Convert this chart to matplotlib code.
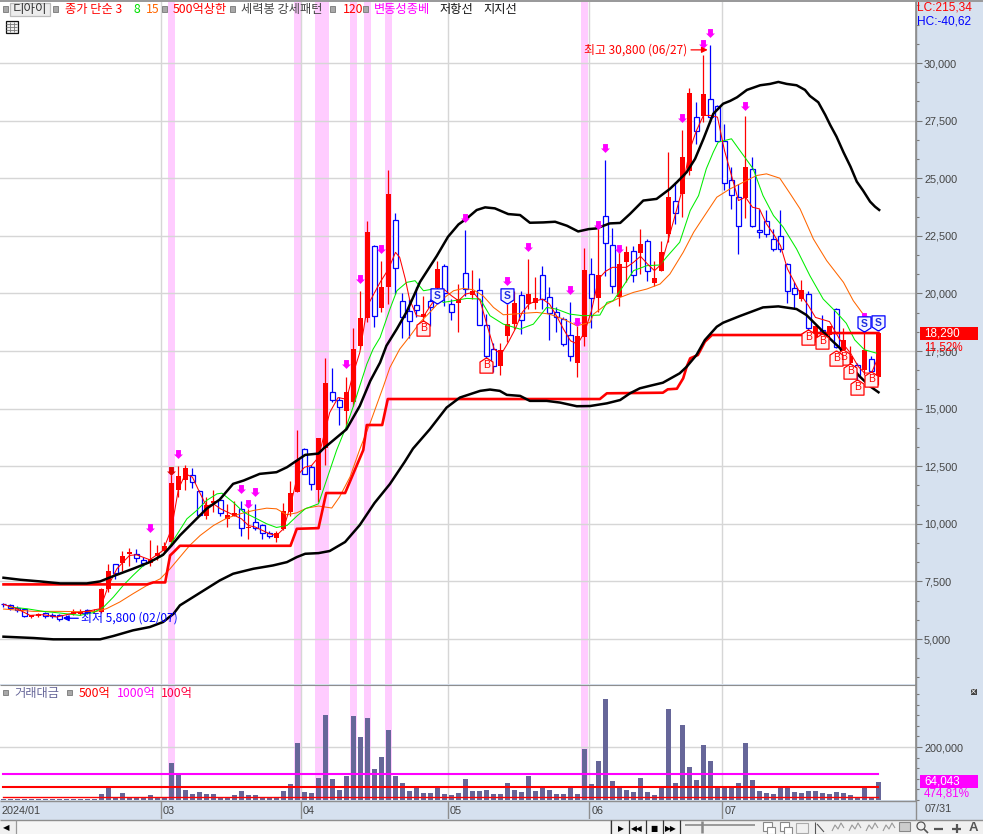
"""Daily candle chart of 디아이 with envelope, moving averages and trading value."""
import matplotlib
matplotlib.use("Agg")
import matplotlib.pyplot as plt
from matplotlib.patches import Rectangle, Circle
from matplotlib.path import Path
from matplotlib.ticker import FixedLocator, FuncFormatter, MultipleLocator

W, H = 983, 834

opens = [6510, 6470, 6360, 6300, 5950, 6000, 6130, 6060, 6040, 5960, 6070, 6080, 6240, 6170, 6190, 7180, 8250, 8310, 8670, 8710, 8430,
         8310, 8610, 8840, 9210, 11450, 11910, 12100, 11430, 10350, 10910, 11030, 10190, 10330, 10640, 9800, 10060, 9940, 9600, 9390, 9780,
         10510, 11400, 13250, 12460, 11450, 13290, 15740, 15380, 14900, 15290, 17730, 18930, 22040, 19360, 20260, 23170, 19650, 19250, 19480, 18990,
         19650, 20220, 21170, 19550, 19600, 20870, 19930, 20130, 18650, 17570, 16860, 18160, 18670, 19930, 19520, 19580, 20780, 19830, 19180, 18870,
         18180, 16970, 18120, 20830, 19810, 23350, 22090, 19860, 21380, 21830, 21770, 22260, 20450, 20990, 22600, 24000, 24330, 25330, 27650, 27680,
         28440, 28120, 26610, 24910, 24180, 24130, 25390, 22740, 23130, 22350, 22480, 21280, 20240, 19750, 19960, 18010, 18420, 18200, 19310, 17550,
         16980, 16900, 16690, 17150, 16370]
highs = [6575, 6530, 6430, 6340, 6040, 6130, 6170, 6140, 6080, 6050, 6290, 6290, 6300, 6290, 7210, 8240, 8270, 8800, 8970, 8920, 8560,
         9310, 9090, 9230, 12100, 12500, 12560, 12430, 11470, 11160, 11470, 11160, 10870, 11010, 10970, 10650, 10850, 10000, 9670, 9670, 10910,
         11850, 14050, 13280, 12560, 13730, 17190, 16780, 15520, 16390, 18490, 20090, 23150, 22100, 21420, 25360, 23490, 20000, 19750, 20260, 19870,
         19750, 21420, 21260, 19750, 20410, 22750, 21020, 20670, 19100, 17840, 17830, 19520, 20120, 20120, 21490, 20730, 21190, 20260, 19390, 18960,
         19610, 18600, 21970, 21540, 22870, 25800, 22840, 21780, 22070, 22070, 22800, 22360, 21390, 22280, 26150, 24830, 27100, 28930, 28320, 30330,
         30800, 28190, 27360, 25480, 24750, 27680, 25930, 23670, 23640, 22800, 23640, 21300, 20480, 20600, 20110, 18590, 19060, 18590, 19350, 18490,
         17700, 16980, 18270, 17290, 18290]
lows = [6400, 6270, 6160, 5970, 5910, 5970, 5910, 5910, 5800, 5850, 6030, 6030, 6100, 6140, 6140, 7040, 7620, 7960, 8170, 8340, 8190,
        8170, 8410, 8770, 9030, 11160, 11450, 11550, 10330, 10190, 10530, 10360, 9860, 10330, 9450, 9350, 9710, 9350, 9380, 9220, 9710,
        10330, 11370, 12170, 11450, 10940, 12550, 15300, 14280, 14250, 15120, 17580, 18740, 18550, 19180, 19540, 19970, 18060, 18060, 18960, 18200,
        18600, 19610, 19460, 18860, 18310, 19870, 19750, 18650, 17100, 16570, 16450, 17870, 18450, 18230, 19320, 19320, 19320, 17990, 18310, 17730,
        17070, 16380, 17730, 18520, 19180, 20770, 20000, 19440, 20480, 20480, 20840, 20520, 20340, 20990, 22220, 23020, 23310, 25120, 26490, 27460,
        27460, 26610, 24470, 23670, 21710, 23280, 22900, 22410, 22440, 21830, 21780, 19580, 19350, 19680, 18400, 17910, 17840, 18060, 17620, 17410,
        16830, 16180, 16470, 16540, 16040]
closes = [6500, 6330, 6270, 6000, 6030, 6080, 6000, 6010, 5880, 5930, 6190, 6190, 6190, 6230, 7180, 7950, 7880, 8600, 8770, 8510, 8320,
          8470, 8740, 9050, 11780, 12070, 12410, 11810, 10390, 10810, 11010, 10460, 10380, 10480, 9810, 9870, 9810, 9580, 9490, 9600, 10560,
          11340, 12770, 12180, 11710, 13730, 16130, 15380, 15050, 15700, 17580, 18930, 22670, 19030, 20260, 24320, 21090, 18990, 18810, 19290, 19100,
          19390, 21040, 20000, 19200, 19750, 20190, 20090, 18650, 17290, 16860, 17540, 18670, 19580, 18860, 19970, 19800, 19750, 19150, 18960, 17810,
          17290, 18150, 21030, 19780, 20780, 22180, 20310, 21260, 21800, 20810, 22150, 20960, 20670, 21800, 24190, 23470, 25930, 28710, 27030, 28670,
          27650, 26610, 24780, 24290, 22910, 25480, 22930, 22650, 22600, 21910, 21930, 20100, 19970, 20130, 18490, 18590, 18240, 18590, 17670, 17980,
          17290, 16470, 17550, 16650, 18290]

# trading value, first 14 sessions are almost nothing
volume = [2000] * 14 + [
    22600, 50300, 12600, 26400, 12600, 12600, 12600, 18900, 12600, 12600, 139600, 94400, 37700, 22600, 30200, 22600, 22600, 12600, 12600, 18900,
    34000, 18900, 18900, 12600, 7500, 12600, 34000, 60400, 215100, 30200, 26400, 83000, 320800, 79300, 37700, 90600, 317000, 237800, 309500, 117000,
    162300, 264200, 90600, 64200, 34000, 49100, 26400, 26400, 45300, 22600, 18900, 26400, 79300, 34000, 34000, 37700,
    22600, 22600, 64200, 37700, 30200, 90600, 34000, 52800, 37700, 22600, 22600, 52800, 22600, 192500, 60400, 147200, 381200, 71700, 52800, 37700,
    30200, 83000, 30200, 18900, 45300, 343400, 64200, 283100, 124500, 75500, 207600, 147200, 45300, 52800, 45300, 64200, 215100, 75500, 34000, 26400,
    22600, 52800, 45300, 30200, 26400, 34000, 34000, 26400, 22600, 30200, 26400, 18900, 12600, 45300, 12600, 67900]

upper_x = [0, 2.4, 5.2, 8.1, 11.9, 13.8, 15.7, 18.5, 20.9, 22.8, 24, 25.2, 27.1, 29, 30.9, 32.8, 34.3, 36.6, 39, 40.5, 41.9, 43.1, 45, 45.7, 49,
           50.9, 52.4, 53.8, 54.7, 56.2, 57.6, 59.5, 61.9, 63.5, 65, 66.2, 67.6, 68.8, 70.2, 72.1, 73.8, 75.2, 77.1, 78.8, 80.5, 82.1, 83.6, 84.7, 86.6, 88.1,
           89.5, 91.4, 93.3, 95.2, 96.2, 97.6, 98.8, 100, 101.4, 102.8, 103.8, 104.8, 106.2, 108.1, 109.5, 110.7, 111.9, 113.3, 114.5, 115.2, 116.4, 117.4, 118.1, 119, 120, 121, 121.9, 122.8, 123.8, 124.5, 125.1]
upper_y = [7659, 7572, 7500, 7413, 7413, 7500, 7731, 8049, 8338, 8656, 9060, 9494, 10072, 10650, 11055, 11734, 11878, 12167, 12240, 12456, 12745, 12991, 13049, 13263, 14103,
           15117, 16204, 17001, 17726, 18461, 19204, 20495, 21628, 22456, 22994, 23256, 23619, 23735, 23691, 23444, 23401, 23067, 23081, 23110, 22936, 22689, 22791, 22820, 23038, 23059,
           23450, 24030, 24102, 24537, 24827, 25262, 25841, 26711, 27797, 28232, 28354, 28513, 28832, 29034, 29092, 29179, 29092, 29034, 28832, 28571, 28296, 27746, 27312, 26806, 26126, 25503, 24852, 24462, 23984, 23767, 23622]

lower_x = [0, 4.3, 7.1, 13.8, 15.7, 18.5, 20.9, 22.8, 24.3, 25.2, 27.1, 29, 30.9, 32.8, 35.7, 38.5, 40.5, 41.9, 43.1, 45, 46.6, 48.8, 50.9, 53, 55.2, 57.3,
           58.5, 60.9, 63.3, 65.2, 68.1, 69.5, 70.9, 71.9, 73.8, 75.2, 77.6, 79.5, 81.9, 83.8, 86.2, 88.1, 89.5, 90.9, 92.4, 94.2, 96.6, 97.6, 99, 100.2, 101.9, 102.8,
           105.2, 108.5, 110.7, 113.3, 114.7, 116.6, 118, 119.5, 120.9, 122.3, 123.8, 125]
lower_y = [5101, 5043, 4986, 4986, 5130, 5376, 5520, 5737, 6098, 6460, 6821, 7182, 7543, 7832, 8049, 8193, 8338, 8555, 8699, 8728, 8819, 9210, 9948, 10902, 11727, 12682,
           13263, 14103, 15045, 15480, 15770, 15827, 15770, 15596, 15552, 15335, 15335, 15262, 15103, 15112, 15229, 15373, 15664, 15880, 15993, 16124, 16531, 16818, 17326, 17977, 18554, 18727,
           19018, 19393, 19437, 19321, 19064, 18488, 18056, 17624, 16904, 16400, 15968, 15709]

support_x = [0, 20.5, 21.4, 23.1, 23.8, 24.3, 25.2, 41, 41.9, 45, 46.1, 48.8, 51.4, 51.9, 54.1, 54.9, 85.2, 86.2, 94.2, 94.9, 96.2, 97.1, 97.6, 98.1, 99.2, 100.2, 101.2, 114, 114.5, 125]
support_y = [7370, 7370, 7456, 7456, 8627, 8771, 9046, 9046, 9783, 9812, 11336, 11336, 13203, 14288, 14288, 15416, 15416, 15664, 15690, 15837, 15863, 16314, 16818, 17183, 17326, 17903, 18194, 18194, 18280, 18280]

ma3_x = [0, 1.9, 3.8, 5.7, 7.6, 10, 11.9, 13.8, 15, 16.2, 18, 19, 20.9, 22.8, 24, 25, 26, 27, 28, 29, 30, 31, 32, 33, 34, 35, 36, 37, 38, 39, 40, 41, 42, 43, 44, 45,
         46.6, 47.8, 49, 50, 50.9, 52, 53.8, 55, 56, 56.6, 57.4, 58, 59, 60, 61, 62, 63, 64, 65, 66, 67.1, 68.1, 69.1, 70.1, 71.1, 72.1, 73.1, 74.1, 75.1, 76.1, 77, 78, 79, 80, 81, 82, 83, 84,
         85, 86, 87, 88, 89, 90, 91, 92, 93, 94, 95, 96, 97, 98, 99, 100, 101, 102, 103, 104, 105, 106, 107, 108, 109, 110, 111, 112, 113, 114, 115, 116, 118, 119.5, 121, 122.1, 123, 124, 125]
ma3_y = [6503, 6315, 6026, 6055, 5954, 6127, 6199, 6315, 7326, 8049, 8627, 8656, 8439, 8844, 9783, 11517, 12167, 12023, 11373, 10766, 10867, 10650, 10506, 10361, 10216, 9927, 9855, 9711, 9566, 9494, 9783, 10794, 12095, 12456, 12528, 12890,
         14827, 15480, 15407, 16566, 17436, 19464, 20479, 21058, 21783, 21565, 20624, 19754, 19030, 19001, 19464, 19899, 20160, 19899, 19682, 19972, 20044, 19682, 18595, 17581, 17363, 17870, 18450, 19175, 19537, 19682, 19754, 19537, 19030, 18450, 17943, 17798, 18305, 19247,
         20625, 20958, 21132, 21132, 21132, 21349, 21610, 21277, 20987, 21277, 22364, 23450, 24537, 26203, 27073, 27725, 27725, 27652, 26203, 25117, 24030, 24175, 23740, 23668, 23016, 22581, 22074, 21060, 20480, 19900, 19465, 18958, 18776, 17984, 17408, 16832, 16544, 16544, 17264]

ma8_x = [0.9, 3.3, 5.7, 8.1, 10.9, 12.8, 14.3, 15.7, 17.1, 18.5, 20, 21.9, 22.8, 23.8, 24.7, 26.2, 27.6, 29, 30.5, 31.2, 32.8, 34.3, 36.2, 37.6, 39, 40.5, 41.9, 43.1, 45,
         47.6, 49, 50, 50.9, 51.9, 52.8, 53.8, 55.2, 56.2, 57.6, 58.8, 60, 61.4, 62.8, 64.3, 66.2, 68.1, 69.5, 71.4, 73.8, 75.7, 77.6, 79, 80.9, 82.8, 85.2,
         86.2, 87.1, 88.1, 90, 91.9, 93.8, 94.7, 96.6, 98.1, 99.3, 100.4, 101.4, 102.1, 104, 105.2, 107.1, 108.5, 110, 111.4, 113.3, 115.2, 117.1, 119, 120.4, 121.6, 123, 124.7]
ma8_y = [6387, 6315, 6199, 6127, 6026, 6142, 6387, 6821, 7326, 7760, 8193, 8482, 8627, 9060, 9494, 10216, 10578, 11011, 11300, 11329, 10939, 10506, 10216, 10000, 9841, 9927, 10332, 10650, 10867,
         13203, 14248, 15117, 15987, 16928, 17581, 18088, 19319, 20116, 20479, 20551, 20116, 20189, 19609, 19682, 19783, 19754, 19030, 18667, 18450, 18667, 19392, 19319, 19102, 19030, 19060,
         19610, 19683, 20118, 20987, 21204, 21233, 21567, 22219, 23595, 24247, 25406, 26131, 26566, 26711, 26203, 25406, 24247, 23378, 22871, 21929, 20770, 19755, 19176, 18704, 17984, 17552, 17408]

ma15_x = [0, 4.3, 8.1, 10.9, 13.3, 14.7, 16.6, 18.5, 20.5, 22.4, 23.8, 25.2, 26.6, 28.1, 30, 31.9, 33.8, 35.7, 37.6, 39, 40.5, 41.9, 43.3, 45, 46.9, 48, 49.5,
          50.9, 52.4, 54.3, 55.2, 56.6, 58.1, 59.5, 60.9, 62.4, 64.3, 65.7, 67.1, 68.5, 70, 71.4, 72.8, 74.7, 76.2, 78, 80, 81.9, 83.8,
          84.3, 86.2, 88.1, 90, 91.9, 93.8, 95.2, 97.1, 98.6, 100, 101.9, 103.8, 105.7, 107.6, 109, 110.9, 112.4, 113.8, 115.7, 117.6, 120, 121.4, 122.8, 124.5]
ma15_y = [6301, 6199, 6199, 6185, 6199, 6315, 6604, 6965, 7326, 7615, 8049, 8555, 9060, 9494, 9927, 10245, 10433, 10578, 10679, 10650, 10390, 10477, 10679, 10772, 10685, 11163, 12031,
          13234, 14393, 15987, 16784, 17581, 18160, 18740, 19175, 19682, 20116, 20218, 20160, 19899, 19392, 19073, 19102, 19146, 19175, 19102, 18885, 18595, 18740,
          19103, 19538, 19828, 20045, 20190, 20408, 20842, 21784, 22658, 23305, 24175, 24537, 24827, 25117, 25189, 25001, 24320, 23668, 22363, 21422, 20480, 19683, 19103, 18800]

arrow_idx = [21, 25, 34, 36, 35, 49, 51, 54, 66, 72, 75, 81, 82, 85, 86, 88, 97, 100, 101, 106, 123]
arrow_val = [9817, 13029, 11510, 11380, 10859, 16935, 20624, 21926, 23271, 20537, 22013, 20147, 18758, 22968, 26309, 21926, 27611, 30823, 31300, 28132, 18975]
limit_idx = [24]
limit_val = [12291]

buy_idx = [60, 69, 115, 117, 120, 119, 121, 122, 124]
buy_val = [18497, 16892, 18107, 17933, 17239, 17195, 16631, 15937, 16284]
sell_idx = [62, 72, 123, 125]
sell_val = [19886, 19886, 18671, 18714]

band_idx = [24, 42, 45, 46, 50, 52, 55, 83]
month_pos = [22.55, 42.55, 63.55, 83.7, 102.7]
month_txt = ["03", "04", "05", "06", "07"]
price_ticks = [5000, 7500, 10000, 12500, 15000, 17500, 20000, 22500, 25000, 27500, 30000]

value_lines = [(100000, "#FF00FF", 1.5), (50000, "#FF0000", 1.5), (10000, "#FF0000", 1.0)]

PANEL = "#D6E1EF"
GRID = "#D6D6D6"
FRAME = "#8E8E8E"
KR = ["Noto Sans CJK KR", "DejaVu Sans"]
NUM = "Liberation Sans"

plt.rcParams["font.family"] = KR

fig = plt.figure(figsize=(W / 100, H / 100), dpi=100, facecolor=PANEL)


def px_axes(x0, y0, x1, y1):
    return fig.add_axes([x0 / W, 1 - y1 / H, (x1 - x0) / W, (y1 - y0) / H])


ax = px_axes(0, 2, 916, 684)
axv = px_axes(0, 685, 916, 800)
axd = px_axes(0, 801, 916, 819)
xlim = (-0.5, 130.36)

for a in (ax, axv):
    a.set_xlim(*xlim)
    a.set_xticks([])
    for s in ("top", "left", "bottom"):
        a.spines[s].set_visible(False)
    a.spines["right"].set_color(FRAME)
    a.spines["right"].set_linewidth(1.2)
    a.yaxis.tick_right()
    a.tick_params(axis="y", which="major", length=4.3, width=0.8, color="#777777", pad=1.5,
                  labelcolor="#444444", labelsize=7.8)
    a.tick_params(axis="y", which="minor", length=2.5, width=0.8, color="#777777")
    for i in band_idx:
        a.axvspan(i - 0.5, i + 0.5, color="#FFCCFF", lw=0, zorder=0)
    for m in month_pos:
        a.axvline(m, color=GRID, lw=1.0, zorder=1)
    a.grid(axis="y", color=GRID, lw=1.0, zorder=1)
    a.set_axisbelow(True)

fmt = FuncFormatter(lambda v, _: f"{int(v):,}")

# price panel
ax.set_ylim(3047, 32648)
ax.yaxis.set_major_locator(FixedLocator(price_ticks))
ax.yaxis.set_minor_locator(MultipleLocator(2500 / 3))
ax.yaxis.set_major_formatter(fmt)

for i, (o, h, l, c) in enumerate(zip(opens, highs, lows, closes)):
    up = c >= o
    col = "#FF0000" if up else "#0000FF"
    ax.vlines(i, l, h, color=col, lw=0.9, zorder=3)
    if up:
        ax.bar(i, c - o, bottom=o, width=0.72, color=col, lw=0, zorder=4)
    else:
        ax.bar(i, o - c, bottom=c, width=0.6, facecolor="white", edgecolor=col, lw=0.9, zorder=4)

ax.plot(ma15_x, ma15_y, color="#FF6600", lw=0.75, zorder=5)
ax.plot(ma8_x, ma8_y, color="#00EE00", lw=0.75, zorder=5)
ax.plot(ma3_x, ma3_y, color="#FF0000", lw=0.75, zorder=5)
ax.plot(support_x, support_y, color="#FF0000", lw=1.9, zorder=6)
ax.plot(upper_x, upper_y, color="black", lw=1.8, zorder=6)
ax.plot(lower_x, lower_y, color="black", lw=1.8, zorder=6)

down_arrow = Path([(-.55, 1), (.55, 1), (.55, 0), (1, 0), (0, -1), (-1, 0), (-.55, 0), (-.55, 1)])
house_up = Path([(0, 1), (.85, .45), (.85, -1), (-.85, -1), (-.85, .45), (0, 1)])
house_dn = Path([(0, -1), (.85, -.45), (.85, 1), (-.85, 1), (-.85, -.45), (0, -1)])

ax.plot(arrow_idx, arrow_val, ls="", marker=down_arrow, ms=6.4, color="#FF00FF", mew=0, zorder=7)
ax.plot(limit_idx, limit_val, ls="", marker=down_arrow, ms=6.4, color="#E00000", mew=0, zorder=7)
ax.plot(buy_idx, buy_val, ls="", marker=house_up, ms=11, mfc="#FFF2F2", mec="#FF0000", mew=0.9, zorder=8)
ax.plot(sell_idx, sell_val, ls="", marker=house_dn, ms=11, mfc="#F4F6FF", mec="#0000FF", mew=0.9, zorder=8)
for i, v in zip(buy_idx, buy_val):
    ax.text(i, v, "B", color="#FF0000", fontsize=7.5, family=NUM, ha="center", va="center", zorder=9)
for i, v in zip(sell_idx, sell_val):
    ax.text(i, v, "S", color="#2030E0", fontsize=7.5, family=NUM, fontweight="bold", ha="center", va="center", zorder=9)

# high / low notes
ax.annotate("최고 30,800 (06/27)", xy=(100.6, 30570), xytext=(-15, 0), textcoords="offset points",
            color="#FF0000", fontsize=8.6, ha="right", va="center", zorder=9,
            arrowprops=dict(arrowstyle="-|>", color="#FF0000", lw=0.9, shrinkA=1, shrinkB=0))
ax.annotate("최저 5,800 (02/07)", xy=(8.5, 5900), xytext=(13, 0), textcoords="offset points",
            color="#0000FF", fontsize=8.6, ha="left", va="center", zorder=9,
            arrowprops=dict(arrowstyle="-|>", color="#0000FF", lw=0.9, shrinkA=0, shrinkB=0))

# trading value panel
axv.set_ylim(0, 434000)
axv.yaxis.set_major_locator(FixedLocator([200000]))
axv.yaxis.set_minor_locator(MultipleLocator(40000))
axv.yaxis.set_major_formatter(fmt)
axv.bar(range(len(volume)), volume, width=0.72, color="#666699", lw=0, zorder=3)
for v, col, lw in value_lines:
    axv.plot([0, 125], [v, v], color=col, lw=lw, zorder=4)

for a in (ax, axv):
    for t in a.get_yticklabels():
        t.set_family(NUM)

# date strip
axd.set_xlim(*xlim)
axd.set_ylim(0, 1)
axd.set_facecolor(PANEL)
axd.set_xticks([])
axd.set_yticks([])
for s in axd.spines.values():
    s.set_visible(False)
axd.text(-0.25, 0.45, "2024/01", color="#444444", fontsize=7.8, family=NUM, va="center", ha="left")
for m, t in zip(month_pos, month_txt):
    axd.axvline(m, color=FRAME, lw=1.0)
    axd.text(m + 0.25, 0.45, t, color="#444444", fontsize=7.8, family=NUM, va="center", ha="left")

# window chrome, in pixels
ch = fig.add_axes([0, 0, 1, 1], zorder=20)
ch.set_xlim(0, W)
ch.set_ylim(H, 0)
ch.axis("off")
ch.patch.set_alpha(0)


def rect(x0, y0, x1, y1, fc="none", ec="none", lw=0.8, z=1):
    ch.add_patch(Rectangle((x0, y0), x1 - x0, y1 - y0, facecolor=fc, edgecolor=ec, lw=lw, zorder=z))


def line(xs, ys, col=FRAME, lw=0.8):
    ch.plot(xs, ys, color=col, lw=lw, solid_capstyle="butt")


def legend_text(x, y, s, col, size=8.8):
    ch.text(x, y, s, color=col, fontsize=size, ha="left", va="center")


def num_text(x, y, s, col, size=7.8):
    ch.text(x, y, s, color=col, fontsize=size, family=NUM, ha="left", va="center")


line([0, W], [1, 1], "#999999", 1.4)
line([0, 916], [684.5, 684.5])
line([0, 916], [800.5, 800.5], FRAME, 1.0)
line([0, 916], [819.5, 819.5], FRAME, 1.0)
line([916, 916], [0, 820], FRAME, 1.0)
line([916, W], [819.5, 819.5], FRAME, 1.0)

for x in (5, 55.5, 164, 232, 332, 365):
    rect(x - 2.5, 6, x + 2.5, 11.5, fc="#A8A8A8", ec="#777777", lw=0.6)
rect(10, 3, 50, 16, fc="#ECECEC", ec="#BBBBBB", lw=0.9)
ch.text(30, 9.5, "디아이", color="#333333", fontsize=9, ha="center", va="center")
legend_text(65, 9.5, "종가 단순 3", "#FF0000")
legend_text(134, 9.5, "8", "#00E000")
legend_text(146, 9.5, "15", "#FF6600")
legend_text(173, 9.5, "500억상한", "#FF0000")
legend_text(241, 9.5, "세력봉 강세패턴", "#444444")
legend_text(343, 9.5, "120", "#FF0000")
legend_text(374, 9.5, "변동성종베", "#FF00FF")
legend_text(440, 9.5, "저항선", "#111111")
legend_text(483, 9.5, "지지선", "#111111")

rect(5.5, 20.5, 17.5, 33, fc="#EFEFEF", ec="#111111", lw=0.9)
for v in (9.5, 13.5):
    line([v, v], [22, 32], "#777777", 0.6)
for v in (24, 27, 30):
    line([6, 17], [v, v], "#777777", 0.6)

num_text(917, 7.5, "LC:215,34", "#FF0000", 8.6)
num_text(917, 21, "HC:-40,62", "#0000FF", 8.6)

rect(920, 327, 978, 340, fc="#FF0000")
num_text(924, 333.5, "18,290", "white", 8.4)
num_text(924, 347, "11,52%", "#FF0000", 8.4)
rect(920, 775, 978, 788, fc="#FF00FF")
num_text(924, 781.5, "64,043", "white", 8.4)
num_text(924, 793.5, "474,81%", "#FF00FF", 8.4)

rect(3, 689.5, 8, 695, fc="#A8A8A8", ec="#777777", lw=0.6)
rect(67, 689.5, 72, 695, fc="#A8A8A8", ec="#777777", lw=0.6)
legend_text(14, 693, "거래대금", "#666699")
legend_text(79, 693, "500억", "#FF0000")
legend_text(117, 693, "1000억", "#FF00FF")
legend_text(161, 693, "100억", "#FF0040")
rect(970.5, 688.5, 977, 695, fc="#444444")
ch.text(973.7, 691.6, "×", color="white", fontsize=6, family="DejaVu Sans", ha="center", va="center")

num_text(925, 809.5, "07/31", "#444444")

# bottom bar
rect(0, 820, W, H, fc="#F0F0F0")
rect(16, 820, 610, H, fc="#F6F6F6", ec="#CCCCCC", lw=0.6)
line([15.5, 15.5], [820, H], "#999999", 0.9)
ch.text(6, 828, "◀", color="black", fontsize=6, family="DejaVu Sans", ha="center", va="center")
for x in (611, 629, 646, 663, 680):
    line([x, x], [820, H], "#333333", 0.9)
for x, s in ((620.5, "▶"), (637, "◀◀"), (654, "■"), (671, "▶▶")):
    ch.text(x, 828.5, s, color="black", fontsize=5.5, family="DejaVu Sans", ha="center", va="center")
line([685, 755], [825, 825], "#999999", 1.4)
line([702, 702], [821, 833], "#888888", 1.8)
for x in (763, 780):
    rect(x, 822, x + 9, 831, fc="white", ec="#888888", lw=0.8)
    rect(x + 4, 827, x + 12, H, fc="white", ec="#888888", lw=0.8)
rect(796, 823, 808, H - 1, ec="#AAAAAA", lw=0.8)
line([815, 815, 826], [822, H, H], "#555555", 0.8)
line([817, 824], [824, 832], "#555555", 0.8)
for x in (832, 849, 866, 883):
    line([x, x + 3, x + 6, x + 9, x + 12], [831, 825, 829, 823, 828], "#999999", 0.8)
rect(899, 822, 910, 831, fc="#CCCCCC", ec="#888888", lw=0.8)
ch.add_patch(Circle((921, 826), 4, facecolor="none", edgecolor="#555555", lw=0.9))
line([924, 928], [829, 833], "#555555", 1.2)
line([934, 943], [828.5, 828.5], "#555555", 1.6)
line([952, 961], [828.5, 828.5], "#555555", 1.6)
line([956.5, 956.5], [824, 833], "#555555", 1.6)
ch.text(973, 828, "A", color="#555555", fontsize=9.5, family=NUM, fontweight="bold", ha="center", va="center")

fig.savefig("out.png", dpi=100, facecolor=PANEL)
